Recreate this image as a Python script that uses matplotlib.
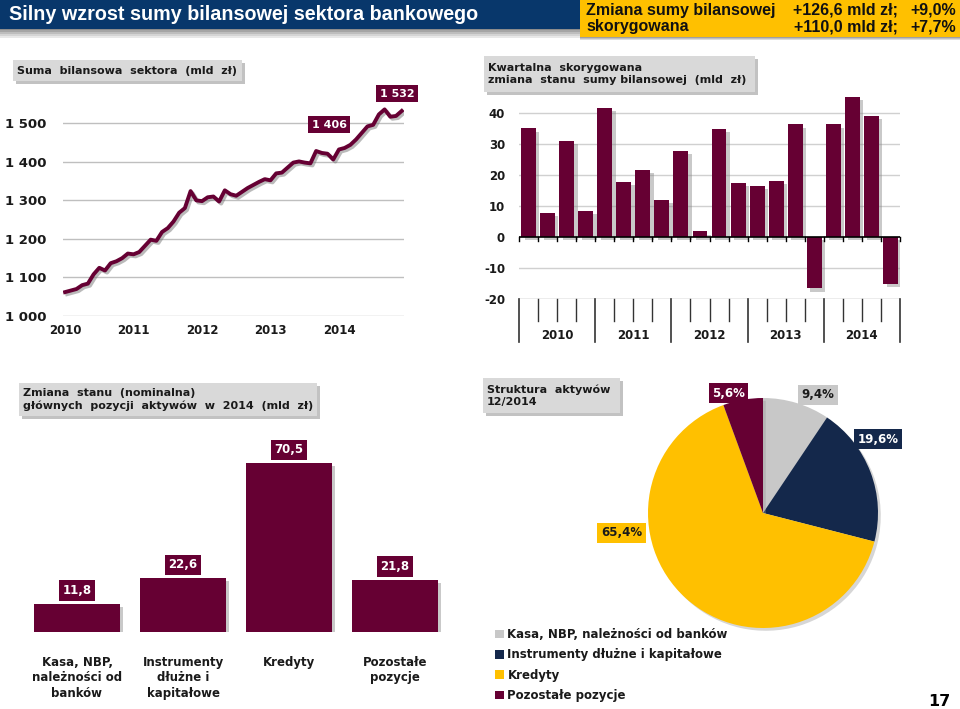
import matplotlib
matplotlib.use("Agg")
import matplotlib.pyplot as plt
import matplotlib.patheffects as pe
from matplotlib.patches import Rectangle
import numpy as np

# --- data -------------------------------------------------------------
years = [2010, 2011, 2012, 2013, 2014]

# monthly total assets of the sector, Jan 2010 .. Dec 2014 (mld zl)
total_assets = [
    1062, 1066, 1070, 1080, 1084, 1108, 1125, 1118, 1137, 1142, 1150, 1162,
    1160, 1166, 1182, 1198, 1195, 1218, 1228, 1245, 1268, 1280, 1324, 1300,
    1298, 1308, 1310, 1297, 1326, 1316, 1312, 1322, 1332, 1340, 1348, 1355,
    1352, 1370, 1372, 1385, 1398, 1401, 1398, 1396, 1428, 1423, 1421, 1406,
    1432, 1436, 1444, 1458, 1475, 1492, 1496, 1523, 1536, 1517, 1519, 1532,
]
line_labels = {47: "1 406", 59: "1 532"}

# quarterly adjusted change, 2010Q1 .. 2014Q4 (mld zl)
quarterly_change = [
    35.0, 7.8, 30.9, 8.4,
    41.6, 17.7, 21.6, 12.0,
    27.7, 1.8, 34.7, 17.4,
    16.5, 18.0, 36.2, -16.5,
    36.2, 45.0, 39.0, -15.1,
]

asset_items = ["Kasa, NBP,\nnależności od\nbanków", "Instrumenty\ndłużne i\nkapitałowe",
               "Kredyty", "Pozostałe\npozycje"]
asset_change_2014 = [11.8, 22.6, 70.5, 21.8]
asset_change_labels = ["11,8", "22,6", "70,5", "21,8"]

pie_names = ["Kasa, NBP, należności od banków", "Instrumenty dłużne i kapitałowe",
             "Kredyty", "Pozostałe pozycje"]
pie_shares = [9.4, 19.6, 65.4, 5.6]
pie_labels = ["9,4%", "19,6%", "65,4%", "5,6%"]

# --- style --------------------------------------------------------------
MAROON = "#660033"
NAVY = "#14284B"
YELLOW = "#FFC000"
GREY = "#C8C8C8"
BOXGREY = "#D9D9D9"
HEADBLUE = "#08376B"
GRID = "#BFBFBF"
TXT = "#1A1A1A"

plt.rcParams["font.family"] = ["DejaVu Sans"]
plt.rcParams["axes.unicode_minus"] = False

W, H = 960, 709
fig = plt.figure(figsize=(W / 100, H / 100), dpi=100)


def fx(x):
    return x / W


def fy(y):
    return 1 - y / H


def add_axes_px(x0, y0, w, h):
    return fig.add_axes([x0 / W, 1 - (y0 + h) / H, w / W, h / H])


def fig_rect(x0, y0, x1, y1, color, shadow=False, z=1):
    if shadow:
        fig.patches.append(Rectangle((fx(x0 + 3), fy(y1 + 3)), (x1 - x0) / W, (y1 - y0) / H,
                                     transform=fig.transFigure, fc="#9A9A9A", ec="none",
                                     alpha=0.6, zorder=z - 0.1))
    fig.patches.append(Rectangle((fx(x0), fy(y1)), (x1 - x0) / W, (y1 - y0) / H,
                                 transform=fig.transFigure, fc=color, ec="none", zorder=z))


def panel_title(x0, y0, x1, y1, text):
    fig_rect(x0, y0, x1, y1, BOXGREY, shadow=True, z=2)
    fig.text(fx(x0 + 4), fy((y0 + y1) / 2), text, ha="left", va="center",
             fontsize=8, fontweight="bold", color=TXT, linespacing=1.2, zorder=3)


bar_shadow = [pe.SimplePatchShadow(offset=(2.5, -2.5), shadow_rgbFace="#888888", alpha=0.45),
              pe.Normal()]
label_box = dict(boxstyle="square,pad=0.3", fc=MAROON, ec="none")

# --- header -----------------------------------------------------------------
for i, c in enumerate(["#8C8C8C", "#A5A5A5", "#BDBDBD", "#D4D4D4", "#E8E8E8"]):
    fig_rect(0, 28 + i * 2, W, 30 + i * 2, c, z=0.5)
fig_rect(0, 0, W, 28.5, HEADBLUE, z=1)
for i, c in enumerate(["#A0A0A0", "#C0C0C0", "#DCDCDC"]):
    fig_rect(580, 37 + i, W, 38 + i, c, z=1)
fig_rect(580, 0, W, 37, YELLOW, z=2)
fig.text(fx(9), fy(14), "Silny wzrost sumy bilansowej sektora bankowego", color="white",
         fontsize=14.2, fontweight="bold", family="Liberation Sans", va="center", ha="left", zorder=3)
head_kw = dict(fontsize=11.5, fontweight="bold", family="Liberation Sans", va="center",
               color="#111111", zorder=3)
fig.text(fx(586), fy(10), "Zmiana sumy bilansowej", ha="left", **head_kw)
fig.text(fx(586), fy(27), "skorygowana", ha="left", **head_kw)
fig.text(fx(898), fy(10), "+126,6 mld zł;", ha="right", **head_kw)
fig.text(fx(898), fy(27), "+110,0 mld zł;", ha="right", **head_kw)
fig.text(fx(956), fy(10), "+9,0%", ha="right", **head_kw)
fig.text(fx(956), fy(27), "+7,7%", ha="right", **head_kw)

# --- top left: total assets line ------------------------------------------------
ax1 = add_axes_px(63, 104, 341, 212)
months = np.array(years[0] + np.arange(len(total_assets)) / 12.0)
ax1.plot(months, total_assets, color=MAROON, lw=2.8, solid_joinstyle="round",
         path_effects=[pe.SimpleLineShadow(offset=(1.5, -1.5), shadow_color="#777777", alpha=0.5),
                       pe.Normal()])
ax1.set_xlim(2009.97, 2014.95)
ax1.set_ylim(1000, 1550)
ax1.set_yticks([1000, 1100, 1200, 1300, 1400, 1500])
ax1.set_yticklabels(["1 000", "1 100", "1 200", "1 300", "1 400", "1 500"])
ax1.set_xticks(years)
ax1.set_xticklabels([str(y) for y in years])
ax1.grid(axis="y", color=GRID, lw=1)
ax1.set_axisbelow(True)
for s in ax1.spines.values():
    s.set_visible(False)
ax1.tick_params(length=0, labelsize=9.5, colors=TXT, pad=12)
ax1.tick_params(axis="x", labelsize=8.5, pad=6)
for lab in ax1.get_xticklabels() + ax1.get_yticklabels():
    lab.set_fontweight("bold")
offsets = {47: (-3, 25), 59: (-3.5, 12.5)}
for idx, txt in line_labels.items():
    ax1.annotate(txt, xy=(months[idx], total_assets[idx]), xytext=offsets[idx],
                 textcoords="offset points", ha="center", va="center", color="white",
                 fontsize=8, fontweight="bold", bbox=label_box, annotation_clip=False)
panel_title(13, 60, 242, 81, "Suma  bilansowa  sektora  (mld  zł)")

# --- top right: quarterly change bars ---------------------------------------------
ax2 = add_axes_px(519, 97, 381, 202)
q = np.arange(len(quarterly_change))
bars = ax2.bar(q, quarterly_change, width=0.78, color=MAROON, zorder=3)
for b in bars:
    b.set_path_effects(bar_shadow)
ax2.set_xlim(-0.5, len(q) - 0.5)
ax2.set_ylim(-20, 45)
ax2.set_yticks([-20, -10, 0, 10, 20, 30, 40])
ax2.set_xticks([])
for v in [-10, 10, 20, 30, 40]:
    ax2.axhline(v, color="#D0D0D0", lw=1, zorder=1)
ax2.axhline(-20, color="#A0A0A0", lw=1, zorder=1)
ax2.axhline(0, color="black", lw=1.2, zorder=4)
for k in range(len(q) + 1):
    xb = k - 0.5
    ax2.plot([xb, xb], [0, -1.3], color="black", lw=1, zorder=4, clip_on=False)
    low = -33.9 if k % 4 == 0 else -27.1
    ax2.plot([xb, xb], [-20, low], color="#333333", lw=1.2 if k % 4 == 0 else 1,
             clip_on=False)
for j, y in enumerate(years):
    ax2.text(1.5 + 4 * j, -31.6, str(y), ha="center", va="center", fontsize=8.5,
             fontweight="bold", color=TXT)
for s in ax2.spines.values():
    s.set_visible(False)
ax2.tick_params(length=0, labelsize=8.5, colors=TXT, pad=10)
for lab in ax2.get_yticklabels():
    lab.set_fontweight("bold")
panel_title(484, 56, 755, 92, "Kwartalna  skorygowana\nzmiana  stanu  sumy bilansowej  (mld  zł)")

# --- bottom left: change of main asset items ---------------------------------
ax3 = add_axes_px(24, 440, 424, 192)
xi = np.arange(len(asset_change_2014))
bars3 = ax3.bar(xi, asset_change_2014, width=0.81, color=MAROON, zorder=3)
for b in bars3:
    b.set_path_effects(bar_shadow)
for i, (v, t) in enumerate(zip(asset_change_2014, asset_change_labels)):
    ax3.annotate(t, xy=(i, v), xytext=(0, 9.5), textcoords="offset points", ha="center",
                 va="center", color="white", fontsize=8.5, fontweight="bold",
                 bbox=dict(boxstyle="square,pad=0.3", fc=MAROON, ec="none"),
                 annotation_clip=False)
ax3.set_xlim(-0.5, len(xi) - 0.5)
ax3.set_ylim(0, 80)
ax3.set_yticks([])
ax3.set_xticks(xi)
ax3.set_xticklabels(asset_items, fontsize=8.5, fontweight="bold", color=TXT, linespacing=1.25)
ax3.tick_params(length=0, pad=17)
for s in ax3.spines.values():
    s.set_visible(False)
panel_title(19, 383, 317, 416, "Zmiana  stanu  (nominalna)\ngłównych  pozycji  aktywów  w  2014  (mld  zł)")

# --- bottom right: asset structure pie -------------------------------------------
ax4 = add_axes_px(648, 398, 230, 230)
wedges, _ = ax4.pie(pie_shares, colors=[GREY, NAVY, YELLOW, MAROON], startangle=90,
                    counterclock=False, radius=1, wedgeprops=dict(linewidth=0))
for w in wedges:
    w.set_path_effects([pe.SimplePatchShadow(offset=(2, -2), shadow_rgbFace="#999999", alpha=0.4),
                        pe.Normal()])
ax4.set_xlim(-1, 1)
ax4.set_ylim(-1, 1)
ax4.set_aspect("equal")
pie_label_pos = [(0.48, 1.03), (1.0, 0.64), (-1.23, -0.17), (-0.30, 1.04)]
pie_label_style = [(GREY, TXT), (NAVY, "white"), (YELLOW, TXT), (MAROON, "white")]
for (px_, py_), (bg, fg), t in zip(pie_label_pos, pie_label_style, pie_labels):
    ax4.text(px_, py_, t, ha="center", va="center", fontsize=8.5, fontweight="bold", color=fg,
             bbox=dict(boxstyle="square,pad=0.3", fc=bg, ec="none"), clip_on=False)
handles = [Rectangle((0, 0), 1, 1, fc=w.get_facecolor(), ec="none") for w in wedges]
leg = fig.legend(handles, pie_names, loc="upper left", bbox_to_anchor=(fx(495), fy(628)),
                 frameon=False, handlelength=0.75, handleheight=0.75, handletextpad=0.3,
                 labelspacing=0.62, borderpad=0, borderaxespad=0,
                 prop=dict(size=8.5, weight="bold"))
for t in leg.get_texts():
    t.set_color(TXT)
panel_title(483, 378, 620, 413, "Struktura  aktywów\n12/2014")

fig.text(fx(950), fy(701), "17", ha="right", va="center", fontsize=11.5, fontweight="bold",
         color="black")

fig.savefig("out.png", dpi=100)
